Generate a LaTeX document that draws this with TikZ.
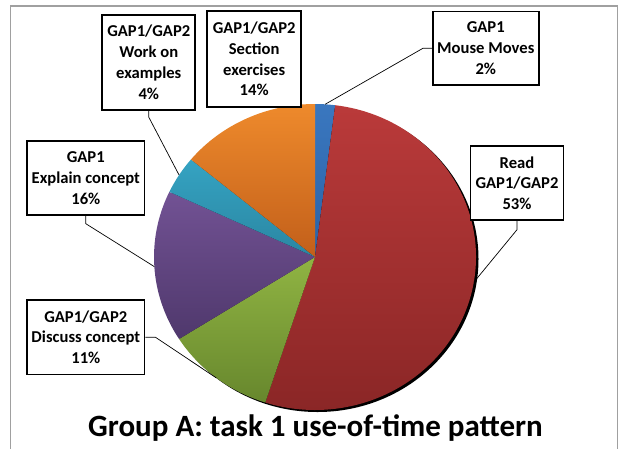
\documentclass[tikz,border=0pt]{standalone}
\usepackage{fontspec}
\setmainfont{Carlito}
\definecolor{framegray}{HTML}{A0A0A0}
\definecolor{blueT}{HTML}{3A77BF}
\definecolor{blueB}{HTML}{2A62A6}
\definecolor{redT}{HTML}{BA3A3A}
\definecolor{redB}{HTML}{8A2626}
\definecolor{greenT}{HTML}{90B443}
\definecolor{greenB}{HTML}{67872D}
\definecolor{purpleT}{HTML}{725294}
\definecolor{purpleB}{HTML}{4F386C}
\definecolor{tealT}{HTML}{35A3C2}
\definecolor{tealB}{HTML}{2A86A2}
\definecolor{orangeT}{HTML}{EE8A2C}
\definecolor{orangeB}{HTML}{C25F1A}
\begin{document}
\begin{tikzpicture}[x=1pt,y=-1pt,
  lbl/.style={draw=black, line width=1.8pt, fill=white, align=center, inner sep=0pt,
    font=\fontsize{16.6}{20.8}\selectfont\bfseries},
  lead/.style={draw=black, line width=0.7pt},
  rim/.style={x radius=161, y radius=153}]
\useasboundingbox (0,0) rectangle (620,448);
\draw[framegray, line width=1.5pt] (10.5,6) rectangle (617.5,470);
\coordinate (c) at (315,257);
% shadow
\fill[black] ([shift={(2.5,2)}]c) ellipse [rim];
% slices (angles are mirrored because the y axis points down)
\shade[top color=blueT, bottom color=blueB] (c) -- ([shift={(c)}]-90:161 and 153) arc[start angle=-90, end angle=-82.8, rim] -- cycle;
\shade[top color=redT, bottom color=redB] (c) -- ([shift={(c)}]-82.8:161 and 153) arc[start angle=-82.8, end angle=108, rim] -- cycle;
\shade[top color=greenT, bottom color=greenB] (c) -- ([shift={(c)}]108:161 and 153) arc[start angle=108, end angle=147.6, rim] -- cycle;
\shade[top color=purpleT, bottom color=purpleB] (c) -- ([shift={(c)}]147.6:161 and 153) arc[start angle=147.6, end angle=205.2, rim] -- cycle;
\shade[top color=tealT, bottom color=tealB] (c) -- ([shift={(c)}]205.2:161 and 153) arc[start angle=205.2, end angle=219.6, rim] -- cycle;
\shade[top color=orangeT, bottom color=orangeB] (c) -- ([shift={(c)}]219.6:161 and 153) arc[start angle=219.6, end angle=270, rim] -- cycle;
% leader targets
\coordinate (tMm) at ([shift={(c)}]-86.4:161 and 153);
\coordinate (tRd) at ([shift={(c)}]9.5:161 and 153);
\coordinate (tDi) at ([shift={(c)}]127.8:161 and 153);
\coordinate (tEx) at ([shift={(c)}]176.4:161 and 153);
\coordinate (tWk) at ([shift={(c)}]212.4:161 and 153);
% labels
\node[lbl, minimum width=93pt, minimum height=95pt] (wk) at (148.8,62.3) {GAP1/GAP2\\Work on\\examples\\4\%};
\node[lbl, minimum width=94pt, minimum height=95.6pt] (se) at (254.2,59) {GAP1/GAP2\\Section\\exercises\\14\%};
\node[lbl, minimum width=106pt, minimum height=73.7pt] (mm) at (485.8,48.3) {GAP1\\Mouse Moves\\2\%};
\node[lbl, minimum width=93pt, minimum height=74pt] (rd) at (517,183.2) {Read\\GAP1/GAP2\\53\%};
\node[lbl, minimum width=117.3pt, minimum height=74pt] (ex) at (85.8,178.2) {GAP1\\Explain concept\\16\%};
\node[lbl, minimum width=117.3pt, minimum height=74.7pt] (di) at (85.8,337.2) {GAP1/GAP2\\Discuss concept\\11\%};
% leader lines
\draw[lead] (wk.south) -- ++(0,6.5) -- (tWk);
\draw[lead] (ex.south) -- ++(0,7.6) -- (tEx);
\draw[lead] (di.east) -- ++(10,0) -- (tDi);
\draw[lead] (mm.west) -- ++(-9,0) -- (tMm);
\draw[lead] (rd.south) -- ++(0,8.6) -- (tRd);
% title
\node[font=\fontsize{31}{37}\selectfont\bfseries, anchor=base, inner sep=0pt] (title) at (315.5,436.7) {Group A: task 1 use-of-time pattern};
\end{tikzpicture}
\end{document}
